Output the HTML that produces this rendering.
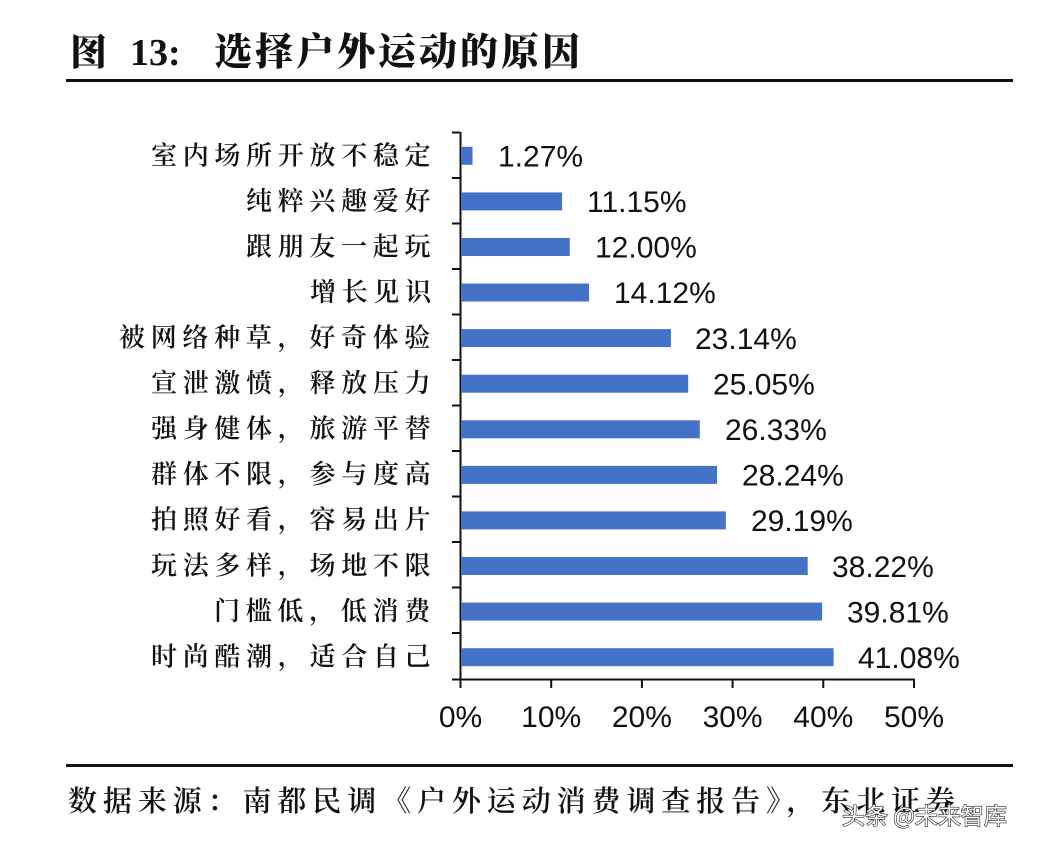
<!DOCTYPE html>
<html>
<head>
<meta charset="utf-8">
<style>
  html,body{margin:0;padding:0;background:#fff;}
  body{width:1060px;height:850px;overflow:hidden;}
  svg{display:block;}
  .cat{font-family:"Noto Serif CJK SC","Liberation Serif",serif;font-size:26px;font-weight:600;fill:#111;letter-spacing:5.7px;}
  .val{font-family:"Liberation Sans",Arial,sans-serif;font-size:30px;fill:#111;}
  .tick{font-family:"Liberation Sans",Arial,sans-serif;font-size:30px;fill:#111;}
</style>
</head>
<body>
<svg width="1060" height="850" viewBox="0 0 1060 850" xmlns="http://www.w3.org/2000/svg">
  <rect x="0" y="0" width="1060" height="850" fill="#fff"/>
  <!-- Title -->
  <text x="70" y="65" font-family="'Noto Serif CJK SC',serif" font-weight="900" font-size="37" fill="#111">图</text>
  <text x="130" y="65" font-family="'Liberation Serif',serif" font-weight="bold" font-size="38" fill="#111">13:</text>
  <text x="214" y="65" font-family="'Noto Serif CJK SC','Liberation Serif',serif" font-weight="900" font-size="38" letter-spacing="3" fill="#111">选择户外运动的原因</text>
  <rect x="66" y="79" width="947" height="3" fill="#111"/>

  <!-- Axes -->
  <g stroke="#111" stroke-width="2" fill="none">
    <line x1="460.5" y1="132" x2="460.5" y2="680"/>
    <line x1="452" y1="679.5" x2="915" y2="679.5"/>
    <line x1="452" y1="132.5" x2="460" y2="132.5"/>
    <line x1="452" y1="178" x2="460" y2="178"/>
    <line x1="452" y1="223.5" x2="460" y2="223.5"/>
    <line x1="452" y1="269" x2="460" y2="269"/>
    <line x1="452" y1="314.5" x2="460" y2="314.5"/>
    <line x1="452" y1="360" x2="460" y2="360"/>
    <line x1="452" y1="405.5" x2="460" y2="405.5"/>
    <line x1="452" y1="451" x2="460" y2="451"/>
    <line x1="452" y1="496.5" x2="460" y2="496.5"/>
    <line x1="452" y1="542" x2="460" y2="542"/>
    <line x1="452" y1="587.5" x2="460" y2="587.5"/>
    <line x1="452" y1="633" x2="460" y2="633"/>
    <line x1="460.5" y1="679" x2="460.5" y2="688"/>
    <line x1="551.2" y1="679" x2="551.2" y2="688"/>
    <line x1="641.9" y1="679" x2="641.9" y2="688"/>
    <line x1="732.6" y1="679" x2="732.6" y2="688"/>
    <line x1="823.3" y1="679" x2="823.3" y2="688"/>
    <line x1="914" y1="679" x2="914" y2="688"/>
  </g>

  <!-- Bars -->
  <g fill="#4472C6">
    <rect x="461" y="146.8" width="11.5" height="18"/>
    <rect x="461" y="192.4" width="101.1" height="18"/>
    <rect x="461" y="238.0" width="108.8" height="18"/>
    <rect x="461" y="283.5" width="128.1" height="18"/>
    <rect x="461" y="329.1" width="209.9" height="18"/>
    <rect x="461" y="374.7" width="227.2" height="18"/>
    <rect x="461" y="420.3" width="238.8" height="18"/>
    <rect x="461" y="465.9" width="256.1" height="18"/>
    <rect x="461" y="511.4" width="264.8" height="18"/>
    <rect x="461" y="557.0" width="346.7" height="18"/>
    <rect x="461" y="602.6" width="361.1" height="18"/>
    <rect x="461" y="648.2" width="372.6" height="18"/>
  </g>

  <!-- Value labels -->
  <text class="val" x="498" y="166.5">1.27%</text>
  <text class="val" x="587" y="212">11.15%</text>
  <text class="val" x="595" y="257.5">12.00%</text>
  <text class="val" x="614" y="303">14.12%</text>
  <text class="val" x="695" y="349">23.14%</text>
  <text class="val" x="713" y="394.5">25.05%</text>
  <text class="val" x="725" y="440">26.33%</text>
  <text class="val" x="742" y="485.5">28.24%</text>
  <text class="val" x="751" y="531">29.19%</text>
  <text class="val" x="832" y="577">38.22%</text>
  <text class="val" x="847" y="622.5">39.81%</text>
  <text class="val" x="858" y="668">41.08%</text>

  <!-- Category labels (right edge ~431) -->
  <text class="cat" x="151" y="164.5">室内场所开放不稳定</text>
  <text class="cat" x="246" y="210">纯粹兴趣爱好</text>
  <text class="cat" x="246" y="255.5">跟朋友一起玩</text>
  <text class="cat" x="310" y="301">增长见识</text>
  <text class="cat" x="119" y="346.5">被网络种草，好奇体验</text>
  <text class="cat" x="151" y="392">宣泄激愤，释放压力</text>
  <text class="cat" x="151" y="437.5">强身健体，旅游平替</text>
  <text class="cat" x="151" y="483">群体不限，参与度高</text>
  <text class="cat" x="151" y="528.5">拍照好看，容易出片</text>
  <text class="cat" x="151" y="574.5">玩法多样，场地不限</text>
  <text class="cat" x="214" y="620">门槛低，低消费</text>
  <text class="cat" x="151" y="665.5">时尚酷潮，适合自己</text>

  <!-- X tick labels -->
  <text class="tick" x="460.5" y="727" text-anchor="middle">0%</text>
  <text class="tick" x="551.2" y="727" text-anchor="middle">10%</text>
  <text class="tick" x="641.9" y="727" text-anchor="middle">20%</text>
  <text class="tick" x="732.6" y="727" text-anchor="middle">30%</text>
  <text class="tick" x="823.3" y="727" text-anchor="middle">40%</text>
  <text class="tick" x="914" y="727" text-anchor="middle">50%</text>

  <!-- Bottom rule and source -->
  <rect x="66" y="764" width="947" height="3" fill="#111"/>
  <text x="68" y="811" font-family="'Noto Serif CJK SC','Liberation Serif',serif" font-weight="600" font-size="29" letter-spacing="5.9" fill="#111">数据来源：南都民调《户外运动消费调查报告》，东北证券</text>

  <!-- Watermark -->
  <text x="842" y="824" font-family="'Noto Sans CJK SC','Liberation Sans',sans-serif" font-size="23" fill="#fff" stroke="#222" stroke-width="1.2" paint-order="stroke">头条 @未来智库</text>
</svg>
</body>
</html>
